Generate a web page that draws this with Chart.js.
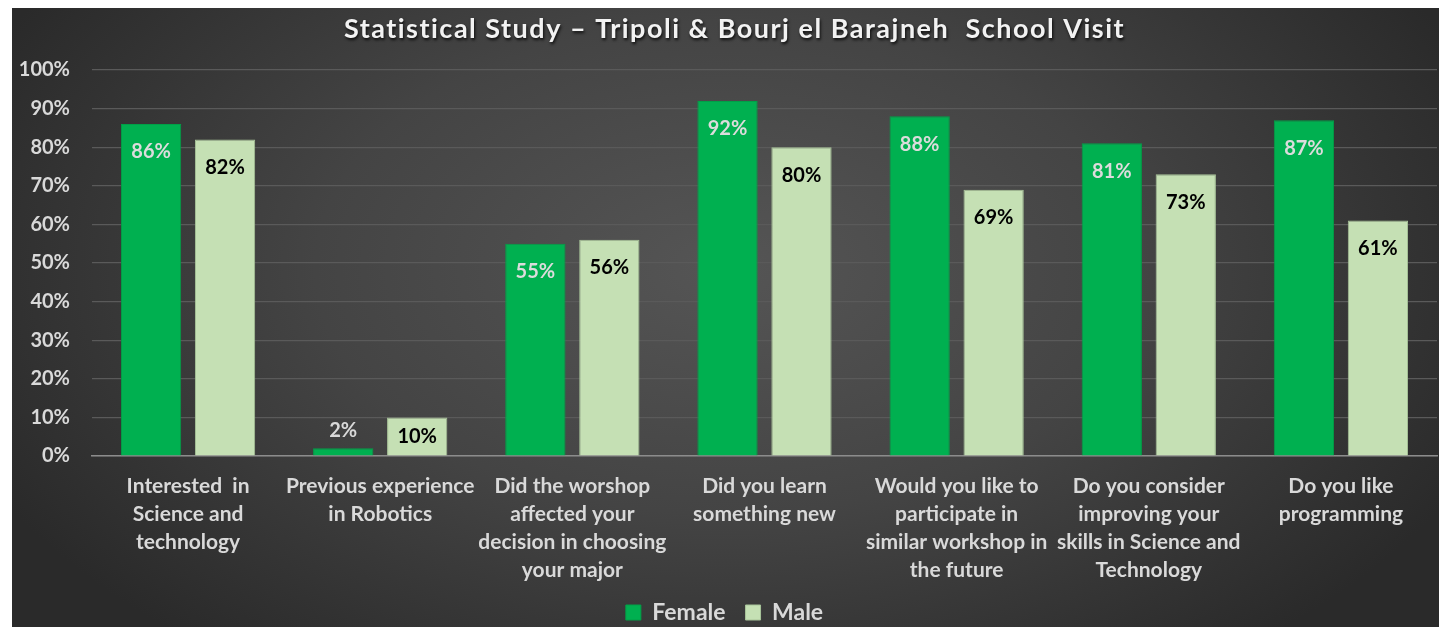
<!DOCTYPE html>
<html>
<head>
<meta charset="utf-8">
<script src="https://cdn.jsdelivr.net/npm/chart.js@4"></script>
<style>
  html, body { margin: 0; padding: 0; background: #fff; }
  #wrap { position: absolute; left: 12px; top: 8px; width: 1427px; height: 619px; }
</style>
</head>
<body>
<div id="wrap"><canvas id="chart_1"></canvas></div>
<script>
const categories = [
  ["Interested  in", "Science and", "technology"],
  ["Previous experience", "in Robotics"],
  ["Did the worshop", "affected your", "decision in choosing", "your major"],
  ["Did you learn", "something new"],
  ["Would you like to", "participate in", "similar workshop in", "the future"],
  ["Do you consider", "improving your", "skills in Science and", "Technology"],
  ["Do you like", "programming"]
];
const female = [86, 2, 55, 92, 88, 81, 87];
const male = [82, 10, 56, 80, 69, 73, 61];
const y_ticks = [0, 10, 20, 30, 40, 50, 60, 70, 80, 90, 100];
const title_text = "Statistical Study \u2013 Tripoli & Bourj el Barajneh  School Visit";

const font_family = "Lato, 'Open Sans', sans-serif";
const text_color = "#d9d9d9";

// dark radial background like the Excel style
const bg_plugin = {
  id: "bg",
  beforeDraw(chart) {
    const ctx = chart.ctx;
    const w = chart.width, h = chart.height;
    ctx.save();
    ctx.fillStyle = "#2a2a2a";
    ctx.fillRect(0, 0, w, h);
    ctx.translate(w * 0.5, h * 0.42);
    ctx.scale(1, 0.6);
    const g = ctx.createRadialGradient(0, 0, 0, 0, 0, 820);
    g.addColorStop(0, "#555555");
    g.addColorStop(0.5, "#444444");
    g.addColorStop(1, "#2a2a2a");
    ctx.fillStyle = g;
    ctx.fillRect(-w, -h * 2, w * 2, h * 4);
    ctx.restore();
  },
  // title with letter spacing and shadow (the built-in one only keeps the space)
  afterDraw(chart) {
    const ctx = chart.ctx;
    ctx.save();
    ctx.font = "bold 27px " + font_family;
    ctx.letterSpacing = "1.5px";
    ctx.textAlign = "center";
    ctx.textBaseline = "middle";
    ctx.shadowColor = "rgba(0,0,0,0.8)";
    ctx.shadowOffsetX = 1;
    ctx.shadowOffsetY = 2;
    ctx.shadowBlur = 3;
    ctx.fillStyle = "#f2f2f2";
    ctx.fillText(title_text, chart.width / 2 + 9, 21);
    ctx.restore();
  }
};

// value labels drawn on the bars
const label_plugin = {
  id: "bar_labels",
  afterDatasetsDraw(chart) {
    const ctx = chart.ctx;
    ctx.save();
    ctx.font = "bold 20px " + font_family;
    ctx.textAlign = "center";
    ctx.textBaseline = "middle";
    chart.data.datasets.forEach(function(ds, i) {
      const meta = chart.getDatasetMeta(i);
      meta.data.forEach(function(bar, j) {
        const top = bar.y, h = bar.base - bar.y;
        let y;
        if (h > 45) {
          y = top + 28;
          ctx.fillStyle = ds.labelColor;
        } else if (h > 25) {
          y = top + h / 2;
          ctx.fillStyle = ds.labelColor;
        } else {
          y = top - 18;
          ctx.fillStyle = text_color;
        }
        ctx.fillText(ds.data[j] + "%", bar.x, y);
      });
    });
    ctx.restore();
  }
};

const ctx = document.getElementById("chart_1").getContext("2d");
const chart = new Chart(ctx, {
  type: "bar",
  data: {
    labels: categories,
    datasets: [{
      label: "Female",
      data: female,
      backgroundColor: "#00b050",
      borderColor: "#00a047",
      borderWidth: 1,
      labelColor: "#dcdcdc"
    }, {
      label: "Male",
      data: male,
      backgroundColor: "#c5e0b4",
      borderColor: "#a8c499",
      borderWidth: 1,
      labelColor: "#000000"
    }]
  },
  plugins: [bg_plugin, label_plugin],
  options: {
    responsive: true,
    maintainAspectRatio: false,
    animation: false,
    categoryPercentage: 0.77,
    barPercentage: 0.815,
    layout: { padding: { top: 0, right: 2, bottom: -7, left: 0 } },
    plugins: {
      title: {
        display: true,
        text: title_text,
        color: "rgba(0,0,0,0)",
        font: { family: font_family, size: 25, weight: "bold" },
        padding: { top: 8, bottom: 24 }
      },
      legend: {
        position: "bottom",
        labels: {
          color: text_color,
          font: { family: font_family, size: 23, weight: "bold" },
          boxWidth: 15,
          boxHeight: 15,
          padding: 20
        }
      },
      tooltip: { enabled: false }
    },
    scales: {
      x: {
        grid: { display: false },
        border: { color: "#8c8c8c", width: 1.5 },
        ticks: {
          color: text_color,
          font: { family: font_family, size: 21, weight: "bold", lineHeight: 1.333 },
          maxRotation: 0,
          autoSkip: false,
          padding: 8
        },
        afterFit: function(scale) { scale.height = 125; }
      },
      y: {
        min: 0,
        max: 100,
        afterBuildTicks: function(scale) {
          scale.ticks = y_ticks.map(function(v) { return { value: v }; });
        },
        grid: { color: "#5a5a5a", lineWidth: 1.2, drawTicks: false },
        border: { display: false },
        ticks: {
          color: text_color,
          font: { family: font_family, size: 20, weight: "bold" },
          padding: 22,
          callback: function(v) { return v + "%"; }
        },
        afterFit: function(scale) { scale.width = 80; }
      }
    }
  }
});
</script>
</body>
</html>
